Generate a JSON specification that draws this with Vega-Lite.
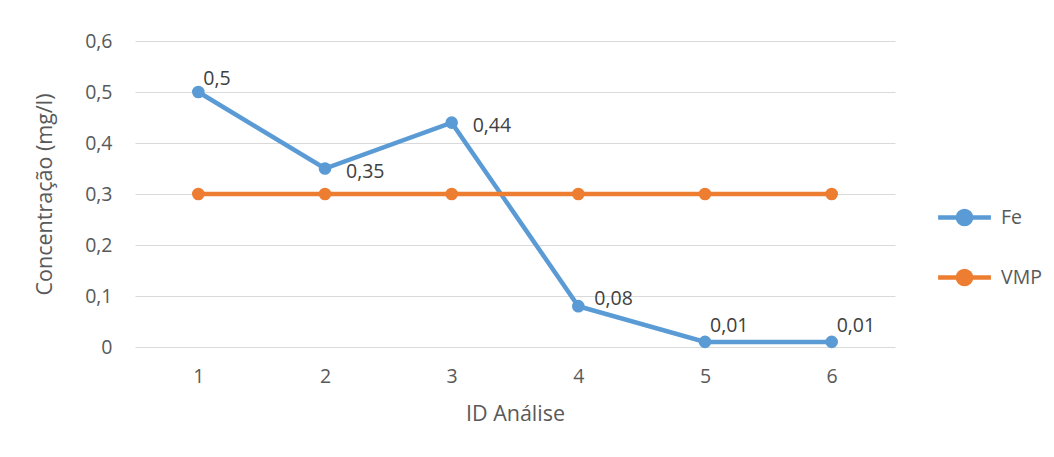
{
  "$schema": "https://vega.github.io/schema/vega-lite/v6.json",
  "width": 760,
  "height": 306,
  "autosize": "none",
  "padding": {"left": 135, "top": 41, "right": 159, "bottom": 110},
  "background": "white",
  "config": {
    "view": {"stroke": null},
    "font": "Open Sans",
    "locale": {"number": {"decimal": ",", "thousands": ".", "grouping": [3], "currency": ["", ""]}},
    "axis": {"labelColor": "#595959", "titleColor": "#595959", "labelFontSize": 19.5, "titleFontSize": 21.5, "titleFontWeight": "normal", "labelFont": "Open Sans", "titleFont": "Open Sans"}
  },
  "data": {
    "values": [
      {"id": "1", "serie": "Fe", "valor": 0.5},
      {"id": "2", "serie": "Fe", "valor": 0.35},
      {"id": "3", "serie": "Fe", "valor": 0.44},
      {"id": "4", "serie": "Fe", "valor": 0.08},
      {"id": "5", "serie": "Fe", "valor": 0.01},
      {"id": "6", "serie": "Fe", "valor": 0.01},
      {"id": "1", "serie": "VMP", "valor": 0.3},
      {"id": "2", "serie": "VMP", "valor": 0.3},
      {"id": "3", "serie": "VMP", "valor": 0.3},
      {"id": "4", "serie": "VMP", "valor": 0.3},
      {"id": "5", "serie": "VMP", "valor": 0.3},
      {"id": "6", "serie": "VMP", "valor": 0.3}
    ]
  },
  "encoding": {
    "x": {
      "field": "id", "type": "ordinal",
      "scale": {"type": "point", "padding": 0.5},
      "axis": {"title": "ID Análise", "labelAngle": 0, "domain": false, "ticks": false, "grid": false, "labelPadding": 20, "titlePadding": 18}
    },
    "y": {
      "field": "valor", "type": "quantitative",
      "scale": {"domain": [0, 0.6]},
      "axis": {"title": "Concentração (mg/l)", "format": ".1~f", "values": [0, 0.1, 0.2, 0.3, 0.4, 0.5, 0.6], "domain": false, "ticks": false, "grid": true, "gridColor": "#d9d9d9", "gridWidth": 1, "labelPadding": 23, "titlePadding": 28}
    }
  },
  "layer": [
    {
      "mark": {"type": "line", "strokeWidth": 4.5},
      "encoding": {
        "color": {
          "field": "serie", "type": "nominal",
          "scale": {"domain": ["Fe", "VMP"], "range": ["#5b9bd5", "#ed7d31"]},
          "legend": {
            "title": null, "orient": "none", "legendX": 815, "legendY": 162,
            "padding": 0,
            "symbolType": "M-2.2,0L2.2,0M-0.55,0A0.55,0.55,0,1,1,0.55,0A0.55,0.55,0,1,1,-0.55,0Z",
            "symbolSize": 576, "symbolStrokeWidth": 4, "rowPadding": 27, "labelOffset": 22,
            "labelFontSize": 19.5, "labelColor": "#595959", "labelFont": "Open Sans",
            "encode": {"symbols": {"update": {"fill": {"scale": "color", "field": "value"}, "stroke": {"scale": "color", "field": "value"}, "strokeWidth": {"value": 4.5}, "opacity": {"value": 1}}}}
          }
        }
      }
    },
    {
      "mark": {"type": "point", "filled": true, "size": 160, "opacity": 1},
      "encoding": {"color": {"field": "serie", "type": "nominal", "legend": null}}
    },
    {
      "transform": [{"filter": "datum.serie == 'Fe' && datum.id == '1'"}],
      "mark": {"type": "text", "align": "left", "baseline": "middle", "dx": 5, "dy": -13, "fontSize": 19.5, "color": "#404040"},
      "encoding": {"text": {"field": "valor", "type": "quantitative", "format": ".2~f"}}
    },
    {
      "transform": [{"filter": "datum.serie == 'Fe' && (datum.id == '2' || datum.id == '3')"}],
      "mark": {"type": "text", "align": "left", "baseline": "middle", "dx": 21, "dy": 3, "fontSize": 19.5, "color": "#404040"},
      "encoding": {"text": {"field": "valor", "type": "quantitative", "format": ".2~f"}}
    },
    {
      "transform": [{"filter": "datum.serie == 'Fe' && datum.id == '4'"}],
      "mark": {"type": "text", "align": "left", "baseline": "middle", "dx": 16, "dy": -7, "fontSize": 19.5, "color": "#404040"},
      "encoding": {"text": {"field": "valor", "type": "quantitative", "format": ".2~f"}}
    },
    {
      "transform": [{"filter": "datum.serie == 'Fe' && (datum.id == '5' || datum.id == '6')"}],
      "mark": {"type": "text", "align": "left", "baseline": "middle", "dx": 5, "dy": -16, "fontSize": 19.5, "color": "#404040"},
      "encoding": {"text": {"field": "valor", "type": "quantitative", "format": ".2~f"}}
    }
  ]
}
